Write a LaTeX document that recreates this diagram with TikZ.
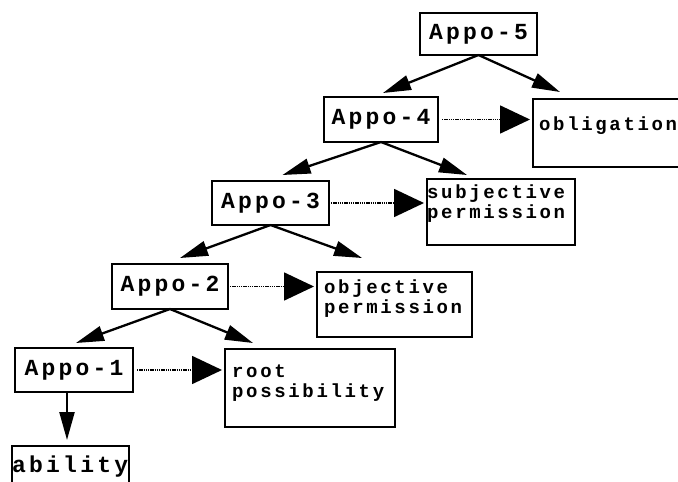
\documentclass[tikz,border=0pt]{standalone}
\usepackage{fontspec}
\newfontfamily\monolbl{Liberation Mono}[LetterSpace=14]
\usetikzlibrary{arrows.meta}

\tikzset{
  box/.style={draw, line width=2pt, inner sep=0pt, outer sep=0pt},
  appo/.style={box, font=\monolbl\bfseries\fontsize{23}{23}\selectfont},
  biglbl/.style={inner sep=0pt, anchor=base west, font=\monolbl\bfseries\fontsize{23}{23}\selectfont},
  lbl/.style={inner sep=0pt, anchor=north west, align=left, font=\monolbl\bfseries\fontsize{19}{18}\selectfont},
  onelbl/.style={inner sep=0pt, anchor=base west, font=\monolbl\bfseries\fontsize{19}{18}\selectfont},
  tree/.style={line width=2.3pt, -{Triangle[length=28pt,width=15pt]}},
  dots/.style={line width=1.7pt, dash pattern=on 1.3pt off 0.9pt, shorten >=3pt, -{Triangle[length=30pt,width=28pt]}},
}

\begin{document}
\begin{tikzpicture}[x=1pt,y=-1pt]
\useasboundingbox (0,0) rectangle (678,482);
\fill[white] (0,0) rectangle (678,482);
\clip (0,0) rectangle (678,482);

% the Appo ladder
\node[appo, minimum width=117pt, minimum height=42pt] (a5) at (478.5,34) {Appo-5};
\node[appo, minimum width=114pt, minimum height=45pt] (a4) at (381,119.5) {Appo-4};
\node[appo, minimum width=117pt, minimum height=44pt] (a3) at (270.5,203) {Appo-3};
\node[appo, minimum width=116pt, minimum height=45pt] (a2) at (170,286.5) {Appo-2};
\node[appo, minimum width=118pt, minimum height=44pt] (a1) at (74,370) {Appo-1};

% meaning boxes
\node[box, minimum width=167pt, minimum height=68pt] (ob) at (616.5,133) {};
\node[onelbl] at (539,130) {obligation};

\node[box, minimum width=148pt, minimum height=66pt] (subj) at (501,212) {};
\node[lbl] at (427,184.4) {\strut subjective\\permission};

\node[box, minimum width=155pt, minimum height=65pt] (obj) at (394.5,304.5) {};
\node[lbl] at (324,279.4) {\strut objective\\permission};

\node[box, minimum width=170pt, minimum height=78pt] (root) at (310,388) {};
\node[lbl, font=\monolbl\bfseries\fontsize{19}{20}\selectfont] at (232,363) {\strut root\\possibility};

\node[box, minimum width=117pt, minimum height=64pt] (ab) at (70.5,478) {};
\node[biglbl] at (12,472) {ability};

% tree arrows
\draw[tree] (a5.south) -- ([shift={(2,-4)}]a4.north);
\draw[tree] (a5.south) -- ([shift={(27,-7)}]ob.north west);
\draw[tree] (a4.south) -- ([shift={(12,-6)}]a3.north);
\draw[tree] (a4.south) -- ([shift={(40,-4)}]subj.north west);
\draw[tree] (a3.south) -- ([shift={(10,-6)}]a2.north);
\draw[tree] (a3.south) -- ([shift={(45,-14)}]obj.north west);
\draw[tree] (a2.south) -- ([shift={(2,-5)}]a1.north);
\draw[tree] (a2.south) -- ([shift={(28,-6)}]root.north west);
\draw[tree] ([xshift=-7pt]a1.south) -- ([shift={(-3.5,-6)}]ab.north);

% dotted arrows
\draw[dots] ([xshift=4pt]a4.east) -- (a4.east -| ob.west);
\draw[dots] ([xshift=2pt]a3.east) -- (a3.east -| subj.west);
\draw[dots] ([xshift=2pt]a2.east) -- (a2.east -| obj.west);
\draw[dots] ([xshift=4pt]a1.east) -- (a1.east -| root.west);
\end{tikzpicture}
\end{document}
